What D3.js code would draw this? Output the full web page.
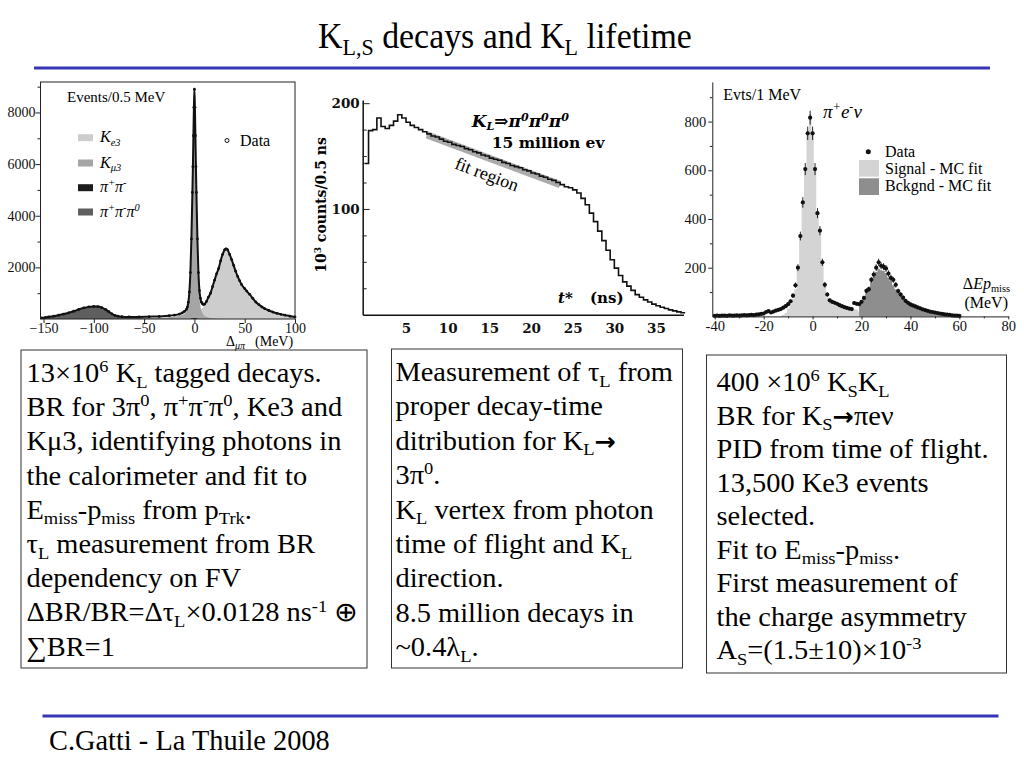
<!DOCTYPE html>
<html>
<head>
<meta charset="utf-8">
<script src="https://cdn.jsdelivr.net/npm/d3@7"></script>
<style>
  body { margin: 0; background: #fff; }
  svg { display: block; }
</style>
</head>
<body>
<svg width="1024" height="768"></svg>
<script>
// ---------- slide text ----------
var titleText = 'K_{L,S} decays and K_{L} lifetime';
var footerText = 'C.Gatti - La Thuile 2008';

// ---------- left plot: events / 0.5 MeV vs Delta_mu_pi ----------
var kpiData = [[-152,40],[-148,60],[-145,80],[-140,110],[-135,150],[-130,190],[-125,240],[-120,300],[-115,370],
  [-110,430],[-105,470],[-100,485],[-96,480],[-92,440],[-88,360],[-85,280],[-82,200],[-79,140],[-76,110],[-72,90],
  [-65,80],[-55,80],[-45,90],[-35,100],[-25,125],[-20,150],[-15,190],[-12,240],[-10,290],[-8,370],[-7,460],[-6,650],
  [-5,1050],[-4,1800],[-3,3100],[-2,4900],[-1.5,5900],[-1,7100],[-0.5,8200],[0,8900],[0.5,8200],[1,7100],[1.5,5900],
  [2,4900],[3,3100],[4,1800],[5,1100],[6,800],[7,650],[8,590],[9,565],[10,575],[12,680],[14,850],[16,1000],[18,1250],
  [20,1500],[22,1750],[24,1950],[26,2250],[28,2500],[30,2680],[31.5,2720],[33,2680],[35,2500],[37,2300],[39,2080],
  [41,1850],[43,1650],[45,1480],[47,1330],[50,1180],[52,1080],[55,950],[58,800],[61,660],[64,560],[67,470],[70,400],
  [74,330],[78,270],[82,220],[86,180],[90,150],[95,110],[100,80]];
var kpiKe3 = [[-80,5],[-60,10],[-40,20],[-20,45],[-10,90],[-5,140],[0,200],[5,300],[8,430],[10,540],[12,660],[14,830],
  [16,980],[18,1230],[20,1480],[22,1730],[24,1930],[26,2230],[28,2480],[30,2660],[31.5,2700],[33,2660],[35,2480],
  [37,2280],[39,2060],[41,1830],[43,1630],[45,1460],[47,1310],[50,1160],[52,1060],[55,930],[58,780],[61,640],[64,540],
  [67,450],[70,380],[74,310],[78,250],[82,200],[86,160],[90,130],[95,90],[100,60]];
var kpiKmu3 = [[-60,20],[-40,35],[-25,70],[-15,130],[-10,200],[-8,280],[-7,380],[-6,580],[-5,980],[-4,1700],[-3,3000],
  [-2,4800],[-1.5,5800],[-1,7000],[-0.5,8100],[0,8850],[0.5,8100],[1,7000],[1.5,5800],[2,4800],[3,3000],[4,1700],
  [5,900],[6,500],[7,330],[8,230],[10,130],[15,50],[20,15],[30,0]];
var kpiPiPi = [[-4,0],[-2,25],[0,40],[2,25],[4,0]];
var kpiPi3 = [[-152,38],[-148,58],[-145,78],[-140,108],[-135,148],[-130,188],[-125,238],[-120,298],[-115,368],
  [-110,428],[-105,468],[-100,482],[-96,478],[-92,436],[-88,355],[-85,272],[-82,190],[-79,128],[-76,95],[-72,70],
  [-65,50],[-55,35],[-45,22],[-35,12],[-25,5],[-20,0]];
var kpiXTicks = [-150, -100, -50, 0, 50, 100];
var kpiYTicks = [2000, 4000, 6000, 8000];
var kpiYMinor = [1000, 3000, 5000, 7000, 9000];
var kpiLegend = ['K_{e3}', 'K_{μ3}', 'π^{+}π^{-}', 'π^{+}π^{-}π^{0}'];
var kpiColors = ['#cdcdcd', '#a5a5a5', '#1c1c1c', '#5f5f5f'];

// ---------- middle plot: K_L -> 3pi0 proper time, 10^3 counts / 0.5 ns ----------
var decayBin = 0.5;
var decayCounts = [143,174,175,186,178,176,179,183,189,186,182,179,177,175,173,171,169,168,166,164,
  163,161,160,159,157,156,154,153,151,150,148,147,146,144,143,141,140,139,137,136,
  134,133,131,130,128,127,125,123,121,120,118,115,110,104,96,88,79,70,61,52,
  44,37,31,27,23,19,16.5,14,12,10,8.5,7,5.8,4.6,3.6,2.7,1.8];
var fitRegion = [[7.5, 170], [23.5, 123]];
var decayXTicks = [5, 10, 15, 20, 25, 30, 35];
var decayYTicks = [100, 200];
var decayYMinor = [25, 50, 75, 125, 150, 175];

// ---------- right plot: K_S -> pi e nu, events / 1 MeV ----------
var ke3Start = -40;
var ke3Counts = [2,3,2,3,3,2,4,3,3,4,3,4,5,4,5,6,5,7,8,10,
  12,18,22,16,20,24,27,30,36,42,
  50,62,85,128,200,330,468,605,752,816,
  752,605,424,352,222,130,90,66,60,56,
  52,46,42,38,35,32,30,55,52,50,
  60,76,105,112,150,172,200,222,208,204,
  197,176,158,150,130,104,90,77,64,56,
  49,45,41,37,33,29,26,23,20,18,
  16,14,12,10,8,7,6,4,3,3,2];
var signalMC = [[-13,3],[-12,6],[-11,14],[-10,32],[-9,50],[-8,72],[-7,112],[-6,192],[-5,322],[-4,462],[-3,600],
  [-2,760],[-1,830],[0,760],[1,600],[2,430],[3,340],[4,215],[5,125],[6,78],[7,58],[8,50],[9,46],[10,42],[11,39],
  [12,36],[13,34],[14,32],[15,31],[16,30],[17,29],[18,28],[19,20]];
var bckgndMC = [[19,45],[20,55],[21,75],[22,100],[23,112],[24,140],[25,165],[26,182],[27,196],[28,190],[29,186],
  [30,178],[31,160],[32,145],[33,128],[34,112],[35,98],[36,86],[37,74],[38,64],[39,56],[40,50],[41,45],[42,40],
  [43,36],[44,32],[45,28],[46,25],[47,22],[48,19],[49,16],[50,13],[51,11],[52,9],[53,7],[54,6],[55,5],[56,4],
  [57,3],[58,2],[59,1],[60,0]];
var ke3XTicks = [-40, -20, 0, 20, 40, 60, 80];
var ke3XMinor = [-30, -10, 10, 30, 50, 70];
var ke3YTicks = [200, 400, 600, 800];
var ke3YMinor = [100, 300, 500, 700, 900];

// ---------- text boxes ----------
var box1Lines = [
  '13×10^{6} K_{L} tagged decays.',
  'BR for 3π^{0}, π^{+}π^{-}π^{0}, Ke3 and',
  'Kμ3, identifying photons in',
  'the calorimeter and fit to',
  'E_{miss}-p_{miss} from p_{Trk}.',
  'τ_{L} measurement from BR',
  'dependency on FV',
  'ΔBR/BR=Δτ_{L}×0.0128 ns^{-1} ⊕',
  '∑BR=1'
];
var box2Lines = [
  'Measurement of τ_{L} from',
  'proper decay-time',
  'ditribution for K_{L}→',
  '3π^{0}.',
  'K_{L} vertex from photon',
  'time of flight and K_{L}',
  'direction.',
  '8.5 million decays in',
  '~0.4λ_{L}.'
];
var box3Lines = [
  '400 ×10^{6} K_{S}K_{L}',
  'BR for K_{S}→πeν',
  'PID from time of flight.',
  '13,500 Ke3 events',
  'selected.',
  'Fit to E_{miss}-p_{miss}.',
  'First measurement of',
  'the charge asymmetry',
  'A_{S}=(1.5±10)×10^{-3}'
];

var svg = d3.select('svg');
var serif = "'Liberation Serif', 'Times New Roman', serif";

// writes "a_{sub}b^{sup}" markup as tspans
function rich(sel, str, size) {
  var parts = str.split(/(\^\{[^}]*\}|_\{[^}]*\}|\*\{[^}]*\}|→)/).filter(function (s) { return s.length; });
  var shift = 0;
  parts.forEach(function (p) {
    var t = sel.append('tspan');
    var target = 0, txt = p, fs = size;
    if (p[0] === '^' && p[1] === '{') { target = -0.36 * size; txt = p.slice(2, -1); fs = size * 0.65; }
    else if (p[0] === '_' && p[1] === '{') { target = 0.21 * size; txt = p.slice(2, -1); fs = size * 0.65; }
    else if (p[0] === '*' && p[1] === '{') { txt = p.slice(2, -1); t.attr('font-style', 'italic'); }
    else if (p === '→') { t.attr('font-family', 'DejaVu Sans').attr('font-weight', 'bold'); fs = size * 0.9; }
    t.attr('dy', target - shift).attr('font-size', fs).text(txt);
    shift = target;
  });
  return sel;
}

function fit(sel, x, y, w) {
  var bw = sel.node().getBBox().width;
  sel.attr('transform', 'translate(' + x + ',' + y + ') scale(' + (w / bw) + ',1)');
}

function styleAxis(g, font, size, weight) {
  g.attr('font-family', font).attr('font-size', size).attr('font-weight', weight || 'normal');
  g.selectAll('line').attr('stroke', '#222');
  g.selectAll('text').attr('fill', '#111');
}

// ---------- title & footer ----------
var title = svg.append('text').attr('font-family', serif);
rich(title, titleText, 35);
fit(title, 318, 48, 374);
svg.append('rect').attr('x', 34).attr('y', 66.5).attr('width', 956).attr('height', 3).attr('fill', '#3535b5');

svg.append('rect').attr('x', 42.5).attr('y', 714.5).attr('width', 956).attr('height', 3).attr('fill', '#3535b5');
var footer = svg.append('text').attr('font-family', serif).attr('font-size', 30).text(footerText);
fit(footer, 49, 750, 281);

// ---------- left plot ----------
var xL = d3.scaleLinear().domain([-153, 100]).range([40.5, 295]);
var yL = d3.scaleLinear().domain([0, 9180]).range([319, 82]);

function areaL() {
  return d3.area().x(function (d) { return xL(d[0]); }).y0(yL(0))
    .y1(function (d) { return yL(d[1]); }).curve(d3.curveMonotoneX);
}
svg.append('path').datum(kpiKe3).attr('d', areaL()).attr('fill', kpiColors[0]);
svg.append('path').datum(kpiKmu3).attr('d', areaL()).attr('fill', kpiColors[1]);
svg.append('path').datum(kpiPiPi).attr('d', areaL()).attr('fill', kpiColors[2]);
svg.append('path').datum(kpiPi3).attr('d', areaL()).attr('fill', kpiColors[3]);

svg.append('path').datum(kpiData)
  .attr('d', d3.line().x(function (d) { return xL(d[0]); }).y(function (d) { return yL(d[1]); }).curve(d3.curveMonotoneX))
  .attr('fill', 'none').attr('stroke', '#111').attr('stroke-width', 2);
svg.append('g').selectAll('circle').data(kpiData).enter().append('circle')
  .attr('cx', function (d) { return xL(d[0]); })
  .attr('cy', function (d) { return yL(d[1]); })
  .attr('r', 1.4).attr('fill', '#111');

svg.append('rect').attr('x', 40.5).attr('y', 82).attr('width', 254.5).attr('height', 237)
  .attr('fill', 'none').attr('stroke', '#222').attr('stroke-width', 1);

var gLy = svg.append('g').attr('transform', 'translate(40.5,0)')
  .call(d3.axisLeft(yL).tickValues(kpiYTicks).tickSize(5).tickPadding(0).tickFormat(d3.format('d')));
gLy.select('.domain').remove();
styleAxis(gLy, serif, 14);
var gLy2 = svg.append('g').attr('transform', 'translate(40.5,0)')
  .call(d3.axisLeft(yL).tickValues(kpiYMinor).tickSize(3).tickFormat(''));
gLy2.select('.domain').remove();
styleAxis(gLy2, serif, 14);
var gLx = svg.append('g').attr('transform', 'translate(0,319)')
  .call(d3.axisBottom(xL).tickValues(kpiXTicks).tickSize(4).tickPadding(0));
gLx.select('.domain').remove();
styleAxis(gLx, serif, 14);

svg.append('text').attr('x', 67).attr('y', 102).attr('font-family', serif).attr('font-size', 15).text('Events/0.5 MeV');

var legL = svg.append('g');
kpiLegend.forEach(function (lab, i) {
  var cy = [137.7, 163, 187.7, 212][i];
  legL.append('rect').attr('x', 78).attr('y', cy - 3.5).attr('width', 15).attr('height', 7).attr('fill', kpiColors[i]);
  var t = legL.append('text').attr('x', 100).attr('y', cy + 4.5).attr('font-family', serif).attr('font-style', 'italic');
  rich(t, lab, 16);
});
svg.append('circle').attr('cx', 227).attr('cy', 140.5).attr('r', 2).attr('fill', 'none').attr('stroke', '#111').attr('stroke-width', 1);
svg.append('text').attr('x', 240).attr('y', 146).attr('font-family', serif).attr('font-size', 16).text('Data');

var xlabL = svg.append('text').attr('x', 226).attr('y', 346).attr('font-family', serif).attr('font-size', 14);
xlabL.append('tspan').text('Δ');
xlabL.append('tspan').attr('font-style', 'italic').attr('font-size', 10).attr('dy', 3).text('μπ');
xlabL.append('tspan').attr('dy', -3).attr('dx', 10).text('(MeV)');

// ---------- middle plot ----------
var xM = d3.scaleLinear().domain([-0.2, 38.3]).range([362.7, 683.5]);
var yM = d3.scaleLinear().domain([0, 203]).range([314.7, 100]);

svg.append('path').datum(fitRegion)
  .attr('d', d3.line().x(function (d) { return xM(d[0]); }).y(function (d) { return yM(d[1]); }))
  .attr('stroke', '#ababab').attr('stroke-width', 7).attr('fill', 'none');

var decayPts = decayCounts.map(function (v, i) { return [i * decayBin, v]; });
decayPts.push([decayCounts.length * decayBin, decayCounts[decayCounts.length - 1]]);
svg.append('path').datum(decayPts)
  .attr('d', d3.line().x(function (d) { return xM(d[0]); }).y(function (d) { return yM(d[1]); }).curve(d3.curveStepAfter))
  .attr('fill', 'none').attr('stroke', '#111').attr('stroke-width', 1.6);

var gMy = svg.append('g').attr('transform', 'translate(362.7,0)')
  .call(d3.axisLeft(yM).tickValues(decayYTicks).tickSizeInner(-7).tickSizeOuter(0).tickPadding(3));
styleAxis(gMy, 'DejaVu Serif', 13.5, 'bold');
gMy.select('.domain').attr('stroke', '#111').attr('stroke-width', 1.5);
var gMy2 = svg.append('g').attr('transform', 'translate(362.7,0)')
  .call(d3.axisLeft(yM).tickValues(decayYMinor).tickSizeInner(-4).tickSizeOuter(0).tickFormat(''));
gMy2.select('.domain').remove();
styleAxis(gMy2, 'DejaVu Serif', 13.5);
var gMx = svg.append('g').attr('transform', 'translate(0,314.7)')
  .call(d3.axisBottom(xM).tickValues(decayXTicks).tickSizeInner(0).tickSizeOuter(0).tickPadding(8.5));
styleAxis(gMx, 'DejaVu Serif', 13.5, 'bold');
gMx.select('.domain').attr('stroke', '#111').attr('stroke-width', 1.5);

var ylabM = svg.append('text').attr('transform', 'translate(326,205) rotate(-90)')
  .attr('text-anchor', 'middle').attr('font-family', 'DejaVu Serif').attr('font-weight', 'bold');
rich(ylabM, '10^{3} counts/0.5 ns', 14);

var klab = svg.append('text').attr('x', 471.7).attr('y', 126.7).attr('font-family', 'DejaVu Serif')
  .attr('font-weight', 'bold').attr('font-style', 'italic');
rich(klab, 'K_{L}⇒π^{0}π^{0}π^{0}', 17);
svg.append('text').attr('x', 491.7).attr('y', 148.3).attr('font-family', 'DejaVu Serif').attr('font-weight', 'bold')
  .attr('font-size', 15.5).text('15 million ev');
svg.append('text').attr('x', 558).attr('y', 303).attr('font-family', 'DejaVu Serif').attr('font-weight', 'bold')
  .attr('font-style', 'italic').attr('font-size', 15).text('t*');
svg.append('text').attr('x', 590).attr('y', 303).attr('font-family', 'DejaVu Serif').attr('font-weight', 'bold')
  .attr('font-size', 15).text('(ns)');
svg.append('text').attr('transform', 'translate(487,174) rotate(20.6)').attr('text-anchor', 'middle')
  .attr('dy', '0.35em').attr('font-family', serif).attr('font-size', 18).text('fit region');

// ---------- right plot ----------
var xR = d3.scaleLinear().domain([-41, 80]).range([712.3, 1008.3]);
var yR = d3.scaleLinear().domain([0, 963]).range([316.4, 81.9]);

function areaR() {
  return d3.area().x(function (d) { return xR(d[0]); }).y0(yR(0))
    .y1(function (d) { return yR(d[1]); }).curve(d3.curveStep);
}
svg.append('path').datum(signalMC).attr('d', areaR()).attr('fill', '#d4d4d4');
svg.append('path').datum(bckgndMC).attr('d', areaR()).attr('fill', '#8e8e8e');

var ke3Pts = ke3Counts.map(function (v, i) { return [ke3Start + i, v]; });
var gPts = svg.append('g');
gPts.selectAll('line').data(ke3Pts).enter().append('line')
  .attr('x1', function (d) { return xR(d[0]); }).attr('x2', function (d) { return xR(d[0]); })
  .attr('y1', function (d) { return yR(d[1] + Math.sqrt(d[1])); })
  .attr('y2', function (d) { return yR(Math.max(0, d[1] - Math.sqrt(d[1]))); })
  .attr('stroke', '#111').attr('stroke-width', 0.9);
gPts.selectAll('circle').data(ke3Pts).enter().append('circle')
  .attr('cx', function (d) { return xR(d[0]); }).attr('cy', function (d) { return yR(d[1]); })
  .attr('r', 2.1).attr('fill', '#111');

var gRy = svg.append('g').attr('transform', 'translate(712.3,0)')
  .call(d3.axisLeft(yR).tickValues(ke3YTicks).tickSizeInner(4).tickSizeOuter(0).tickPadding(2));
styleAxis(gRy, serif, 14.5);
gRy.select('.domain').attr('stroke', '#222');
var gRy2 = svg.append('g').attr('transform', 'translate(712.3,0)')
  .call(d3.axisLeft(yR).tickValues(ke3YMinor).tickSize(2.5).tickFormat(''));
gRy2.select('.domain').remove();
styleAxis(gRy2, serif, 14.5);
var gRx = svg.append('g').attr('transform', 'translate(0,316.4)')
  .call(d3.axisBottom(xR).tickValues(ke3XTicks).tickSizeInner(3).tickSizeOuter(0).tickPadding(1.5)
    .tickFormat(function (d) { return String(d); }));
styleAxis(gRx, serif, 14.5);
gRx.select('.domain').attr('stroke', '#222');
var gRx2 = svg.append('g').attr('transform', 'translate(0,316.4)')
  .call(d3.axisBottom(xR).tickValues(ke3XMinor).tickSize(2).tickFormat(''));
gRx2.select('.domain').remove();
styleAxis(gRx2, serif, 14.5);

svg.append('text').attr('x', 723.3).attr('y', 100).attr('font-family', serif).attr('font-size', 16).text('Evts/1 MeV');
var pen = svg.append('text').attr('x', 823).attr('y', 118).attr('font-family', serif).attr('font-style', 'italic');
rich(pen, 'π^{+}e^{-}ν', 19);

svg.append('circle').attr('cx', 868.3).attr('cy', 151.7).attr('r', 2.5).attr('fill', '#111');
svg.append('rect').attr('x', 859).attr('y', 160).attr('width', 20).attr('height', 16.7).attr('fill', '#d4d4d4');
svg.append('rect').attr('x', 859).attr('y', 178.3).attr('width', 20).attr('height', 16.7).attr('fill', '#8e8e8e');
[['Data', 157], ['Signal - MC fit', 173.5], ['Bckgnd - MC fit', 190.5]].forEach(function (l) {
  svg.append('text').attr('x', 885).attr('y', l[1]).attr('font-family', serif).attr('font-size', 16).text(l[0]);
});
var xlabR = svg.append('text').attr('x', 1010).attr('y', 289).attr('text-anchor', 'end').attr('font-family', serif);
rich(xlabR, 'Δ*{Ep}_{miss}', 16);
svg.append('text').attr('x', 1008).attr('y', 308).attr('text-anchor', 'end').attr('font-family', serif)
  .attr('font-size', 16).text('(MeV)');

// ---------- text boxes ----------
function textBox(bx, by, bw, bh, tx, ty0, step, lines) {
  svg.append('rect').attr('x', bx).attr('y', by).attr('width', bw).attr('height', bh)
    .attr('fill', 'none').attr('stroke', '#333').attr('stroke-width', 1);
  lines.forEach(function (line, i) {
    var t = svg.append('text').attr('font-family', serif).attr('fill', '#000')
      .attr('transform', 'translate(' + tx + ',' + (ty0 + i * step) + ') scale(1.052,1)');
    rich(t, line, 27);
  });
}
textBox(21, 350, 346, 318, 26.5, 382, 34.2, box1Lines);
textBox(391.5, 349, 291, 319, 395.5, 381, 34.4, box2Lines);
textBox(706.5, 355, 300, 318, 716.5, 391, 33.5, box3Lines);
</script>
</body>
</html>
